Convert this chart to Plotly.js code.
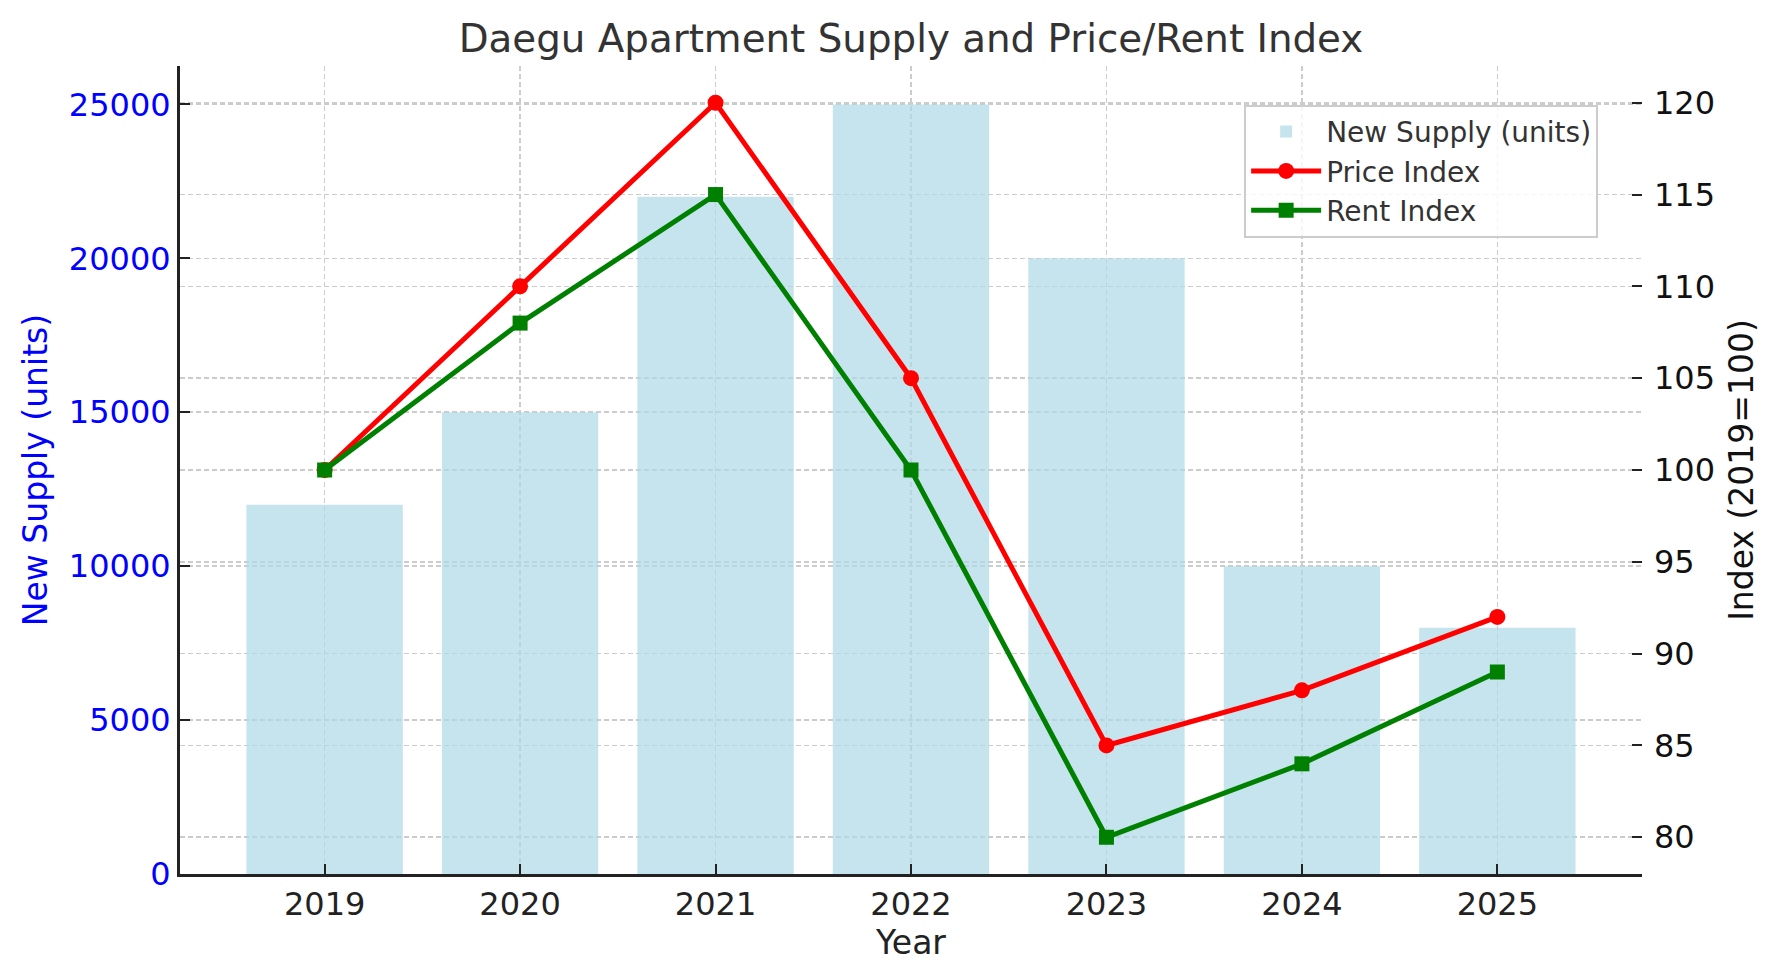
<!DOCTYPE html>
<html>
<head>
<meta charset="utf-8">
<script src="https://cdn.plot.ly/plotly-3.0.1.min.js"></script>
<style>
  html, body { margin: 0; padding: 0; background: #ffffff; }
  #chart { width: 1779px; height: 980px; }
</style>
</head>
<body>
<div id="chart"></div>
<script>
const years = ['2019', '2020', '2021', '2022', '2023', '2024', '2025'];
const newSupply = [12000, 15000, 22000, 25000, 20000, 10000, 8000];
const priceIndex = [100, 110, 120, 105, 85, 88, 92];
const rentIndex = [100, 108, 115, 100, 80, 84, 89];
const supplyTicks = [0, 5000, 10000, 15000, 20000, 25000];
const indexTicks = [80, 85, 90, 95, 100, 105, 110, 115, 120];

const FONT = 'DejaVu Sans, Verdana, sans-serif';
const gridStyle = {
  showgrid: true,
  gridcolor: '#cccccc',
  gridwidth: 1.6,
  griddash: '5px,3px',
  zeroline: false
};

const traces = [
  {
    type: 'bar',
    name: 'New Supply (units)',
    x: years,
    y: newSupply,
    width: 0.8,
    marker: { color: 'rgba(173,216,230,0.7)', line: { width: 0 } },
    yaxis: 'y',
    hoverinfo: 'skip'
  },
  {
    type: 'scatter',
    mode: 'lines+markers',
    name: 'Price Index',
    x: years,
    y: priceIndex,
    line: { color: '#ff0000', width: 5 },
    marker: { symbol: 'circle', size: 16, color: '#ff0000' },
    yaxis: 'y2',
    hoverinfo: 'skip'
  },
  {
    type: 'scatter',
    mode: 'lines+markers',
    name: 'Rent Index',
    x: years,
    y: rentIndex,
    line: { color: '#008000', width: 5 },
    marker: { symbol: 'square', size: 15, color: '#008000' },
    yaxis: 'y2',
    hoverinfo: 'skip'
  }
];

const layout = {
  width: 1779,
  height: 980,
  margin: { l: 180, r: 137, t: 66, b: 106, pad: 0 },
  paper_bgcolor: '#ffffff',
  plot_bgcolor: '#ffffff',
  font: { family: FONT, color: '#222222' },
  showlegend: true,
  title: {
    text: 'Daegu Apartment Supply and Price/Rent Index',
    font: { family: FONT, size: 38.8, color: '#333333' },
    x: 0.5, xref: 'paper', xanchor: 'center',
    y: 1 - 38 / 980, yref: 'container', yanchor: 'middle'
  },
  xaxis: Object.assign({
    type: 'category',
    range: [-0.74, 6.74],
    tickfont: { family: FONT, size: 32, color: '#222222' },
    ticks: 'inside',
    ticklen: 10,
    tickwidth: 2,
    tickcolor: '#222222',
    showline: true,
    linecolor: '#222222',
    linewidth: 3,
    title: { text: 'Year', font: { family: FONT, size: 33, color: '#222222' }, standoff: 8 }
  }, gridStyle),
  yaxis: Object.assign({
    range: [0, 26250],
    tickmode: 'array',
    tickvals: supplyTicks,
    ticktext: supplyTicks.map(String),
    tickfont: { family: FONT, size: 32, color: '#0000ff' },
    ticks: 'inside',
    ticklen: 10,
    tickwidth: 2,
    tickcolor: '#222222',
    showline: true,
    linecolor: '#222222',
    linewidth: 3,
    title: { text: 'New Supply (units)', font: { family: FONT, size: 33, color: '#0000ff' }, standoff: 12 }
  }, gridStyle),
  yaxis2: Object.assign({
    overlaying: 'y',
    side: 'right',
    range: [78, 122],
    tickmode: 'array',
    tickvals: indexTicks,
    ticktext: indexTicks.map(String),
    tickfont: { family: FONT, size: 32, color: '#111111' },
    ticks: 'inside',
    ticklen: 10,
    tickwidth: 2,
    tickcolor: '#222222',
    ticklabelstandoff: 11,
    showline: false,
    title: { text: 'Index (2019=100)', font: { family: FONT, size: 33, color: '#111111' }, standoff: 15 }
  }, gridStyle),
  legend: {
    x: 0.970, y: 0.952, xanchor: 'right', yanchor: 'top',
    xref: 'paper', yref: 'paper',
    bgcolor: 'rgba(255,255,255,0.8)',
    bordercolor: '#cccccc',
    borderwidth: 2,
    font: { family: FONT, size: 28, color: '#333333' },
    itemwidth: 70,
    traceorder: 'normal'
  },
  bargap: 0.2
};

Plotly.newPlot('chart', traces, layout, { displayModeBar: false, staticPlot: true });
</script>
</body>
</html>
